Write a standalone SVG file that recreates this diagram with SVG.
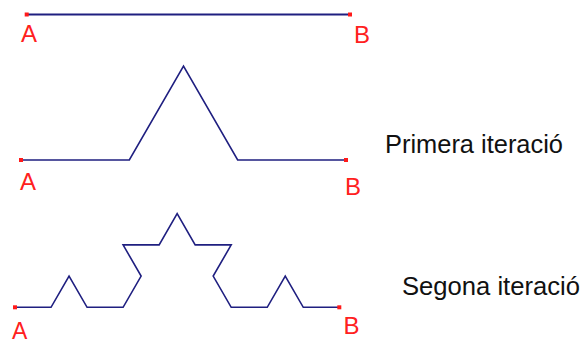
<svg xmlns="http://www.w3.org/2000/svg" width="582" height="343" viewBox="0 0 582 343">
<style>
.curve{fill:none;stroke:#1f1f80;stroke-width:1.6;stroke-linejoin:miter}
.pt{fill:#ff1a1a}
.lbl{font-family:"Liberation Sans",Arial,sans-serif;font-size:24px;fill:#ff2020}
.cap{font-family:"Liberation Sans",Arial,sans-serif;font-size:26px;fill:#111}
</style>
<rect width="582" height="343" fill="#fff"/>
<g id="connectors">
<path class="curve" style="stroke-width:2.2" d="M26.7,14.5 L350,14.5"/>
<path class="curve" d="M21,160 L129.33,160 L183.5,66.2 L237.67,160 L346,160"/>
<path class="curve" d="M15,307.3 L51.03,307.3 L69.05,276.09 L87.07,307.3 L123.1,307.3 L141.12,276.09 L123.1,244.89 L159.13,244.89 L177.15,213.68 L195.17,244.89 L231.2,244.89 L213.18,276.09 L231.2,307.3 L267.23,307.3 L285.25,276.09 L303.27,307.3 L339.3,307.3"/>
</g>
<g id="original">
<rect class="pt" x="24.7" y="12.5" width="4" height="4"/>
<rect class="pt" x="348" y="12.5" width="4" height="4"/>
<text class="lbl" x="21" y="42">A</text>
<text class="lbl" x="354" y="43">B</text>
</g>
<g id="iteration1">
<rect class="pt" x="19" y="158" width="4" height="4"/>
<rect class="pt" x="344" y="158" width="4" height="4"/>
<text class="lbl" x="20" y="190">A</text>
<text class="lbl" x="345" y="195">B</text>
<text class="cap" x="385" y="153" textLength="178" lengthAdjust="spacingAndGlyphs">Primera iteració</text>
</g>
<g id="iteration2">
<rect class="pt" x="13" y="305.3" width="4" height="4"/>
<rect class="pt" x="337.3" y="305.3" width="4" height="4"/>
<text class="lbl" x="12" y="338.5" style="font-size:23px">A</text>
<text class="lbl" x="343.5" y="334">B</text>
<text class="cap" x="402" y="294.5" textLength="178" lengthAdjust="spacingAndGlyphs">Segona iteració</text>
</g>
</svg>
